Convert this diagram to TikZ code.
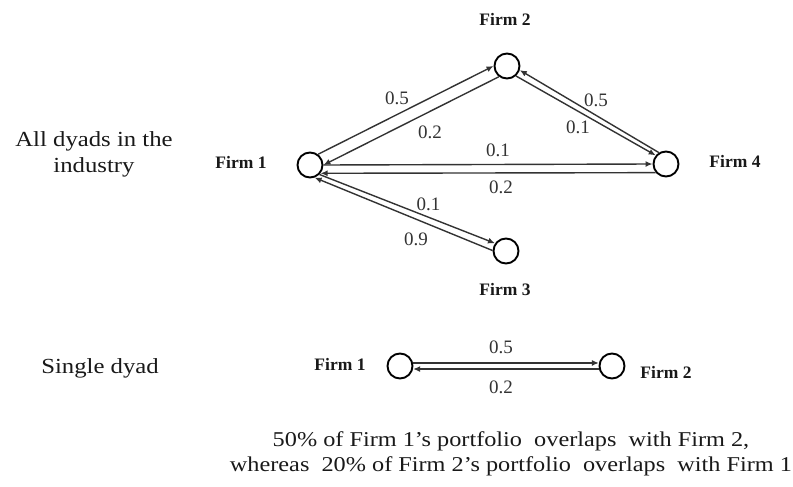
\documentclass[tikz,border=0pt]{standalone}
\usepackage{fontspec}
\setmainfont{Liberation Serif}
\newfontfamily\widefont{Liberation Serif}[FakeStretch=1.15]
\usetikzlibrary{arrows.meta}
\begin{document}
\begin{tikzpicture}[x=1pt,y=-1pt,
  firm/.style={circle,draw=black,line width=1.9pt,minimum size=25pt,inner sep=0pt},
  flab/.style={font=\fontsize{17.5}{20}\selectfont\bfseries,text=black!90,inner sep=0pt},
  wlab/.style={font=\fontsize{19}{22}\selectfont,text=black!80,inner sep=0pt},
  side/.style={font=\widefont\fontsize{21.5}{26}\selectfont,align=center,text=black!90,inner sep=0pt},
  note/.style={font=\widefont\fontsize{21.1}{25.5}\selectfont,align=center,text=black!90,inner sep=0pt},
  link/.style={draw=black!80,line width=1.4pt,-{Latex[length=7pt,width=6pt]}},
]
\useasboundingbox[fill=white] (0,0) rectangle (793,487);

% upper diagram
\node[firm] (f1) at (310,165) {};
\node[firm] (f2) at (507,66) {};
\node[firm] (f4) at (666,164) {};
\node[firm] (f3) at (506,251) {};

\node[flab] (l1) at (241,162) {Firm 1};
\node[flab] (l2) at (505,19) {Firm 2};
\node[flab] (l4) at (735,161) {Firm 4};
\node[flab] (l3) at (505,290) {Firm 3};

\draw[link] (f1.53) -- (f2.180);
\draw[link] (f2.233) -- (f1.0);
\draw[link] (f1.0) -- (f4.180);
\draw[link] (f4.-140) -- (f1.-38);
\draw[link] (f4.122) -- (f2.-18);
\draw[link] (f2.-48) -- (f4.140);
\draw[link] (f1.-45) -- (f3.145);
\draw[link] (f3.178) -- (f1.-70);

\node[wlab] (w12) at (397,98) {0.5};
\node[wlab] (w21) at (430,132) {0.2};
\node[wlab] (w14) at (498,150) {0.1};
\node[wlab] (w41) at (501,187.5) {0.2};
\node[wlab] (w42) at (596,100) {0.5};
\node[wlab] (w24) at (578,127.5) {0.1};
\node[wlab] (w13) at (428.5,204.5) {0.1};
\node[wlab] (w31) at (416,239.5) {0.9};

\node[side] (all) at (94,154) {All dyads in the\\industry};

% single dyad
\node[side] (single) at (100,368) {Single dyad};
\node[firm] (s1) at (400,366) {};
\node[firm] (s2) at (612,366) {};
\node[flab] (sl1) at (340,364) {Firm 1};
\node[flab] (sl2) at (666,372.5) {Firm 2};
\draw[link] (s1.13) -- (s2.167);
\draw[link] (s2.-167) -- (s1.-13);
\node[wlab] (sw12) at (501,347) {0.5};
\node[wlab] (sw21) at (501,387) {0.2};

\node[note] (txt) at (511,454) {50\% of Firm 1’s portfolio\ \ overlaps\ \ with Firm 2,\\whereas\ \ 20\% of Firm 2’s portfolio\ \ overlaps\ \ with Firm 1};
\end{tikzpicture}
\end{document}
